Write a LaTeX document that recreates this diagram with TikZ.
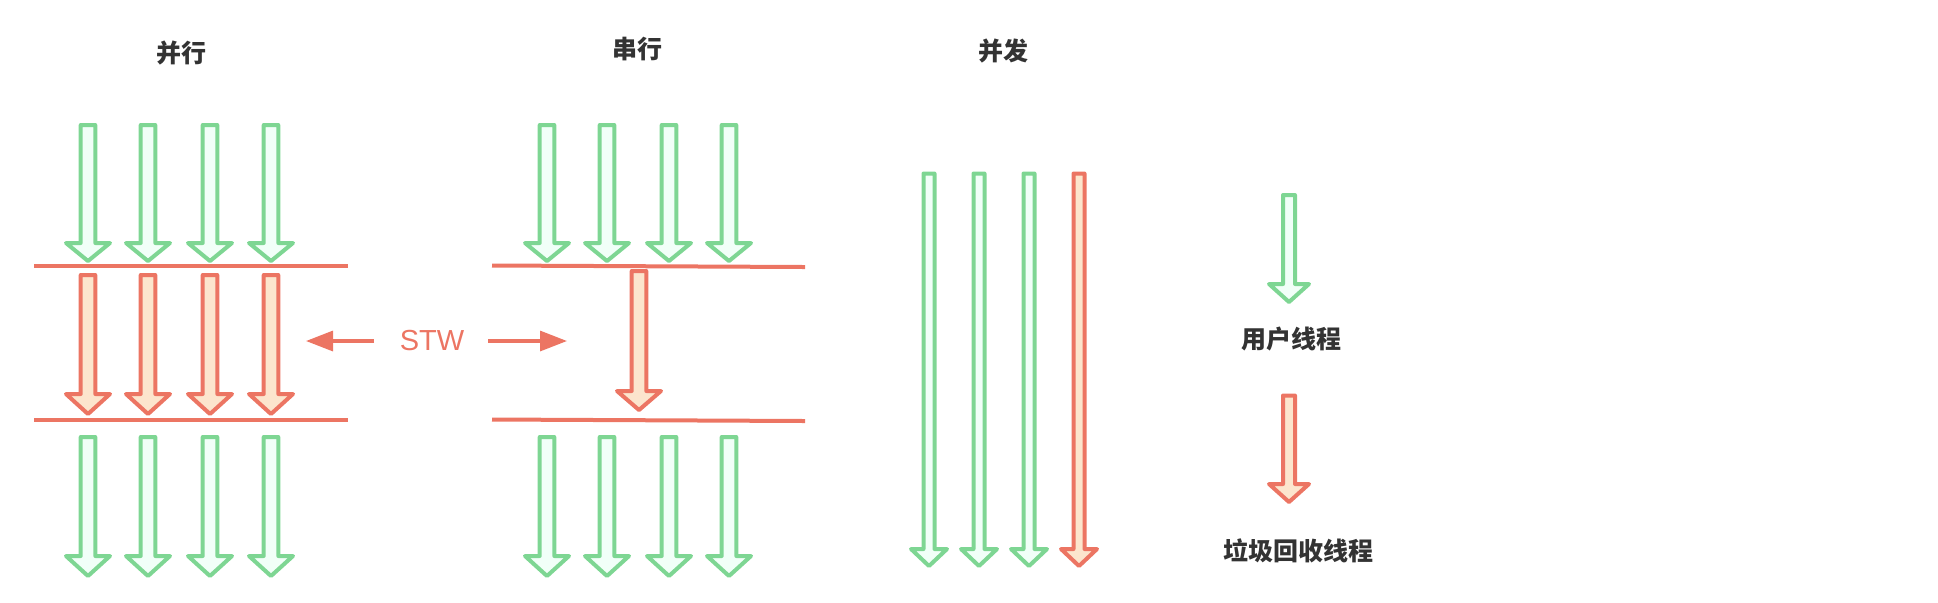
\documentclass[tikz,border=0pt]{standalone}
\usepackage{fontspec}
\setmainfont{Liberation Sans}
\newfontfamily\cjk{Noto Sans CJK SC}
\usetikzlibrary{arrows.meta}
\definecolor{usergreen}{HTML}{7ED693}
\definecolor{userfill}{HTML}{F1FFF8}
\definecolor{gcred}{HTML}{EC7563}
\definecolor{gcfill}{HTML}{FCE5CD}
\definecolor{labelgray}{HTML}{333333}
% style, x, top, head base, tip, half shaft, half head
\newcommand\thread[7]{%
  \draw[#1] (#2-#6,#3) -- (#2+#6,#3) -- (#2+#6,#4) -- (#2+#7,#4) -- (#2,#5)
    -- (#2-#7,#4) -- (#2-#6,#4) -- cycle;}
\begin{document}
\begin{tikzpicture}[x=0.5pt,y=-0.5pt,
  user/.style={draw=usergreen,fill=userfill,line width=2pt,line join=round},
  gc/.style={draw=gcred,fill=gcfill,line width=2pt,line join=round},
  stwline/.style={draw=gcred,line width=2pt},
  stwarrow/.style={draw=gcred,line width=1.6pt,-{Triangle[length=13.5pt,width=10pt]}},
  title/.style={font=\cjk\bfseries\fontsize{12.5pt}{15pt}\selectfont,text=labelgray}]
	\useasboundingbox (0,0) rectangle (1938,602);
	% parallel
	\node[title] (par) at (181,53) {并行};
	\coordinate (parT1) at (34,265.5); \coordinate (parT2) at (348,265.5);
	\coordinate (parB1) at (34,419.6); \coordinate (parB2) at (348,419.6);
	\draw[stwline] (parT1)--(parT2) (parB1)--(parB2);
	\foreach \x in {88,148,210,271} {
		\thread{user}{\x}{125}{243}{261}{7.3}{22}
		\thread{gc}{\x}{275}{394}{414}{7.3}{22}
		\thread{user}{\x}{437}{556}{576}{7.3}{22}
	}
	% stop the world
	\node[text=gcred,font=\fontsize{14.5pt}{17pt}\selectfont] (stw) at (432,341) {STW};
	\coordinate (stwL0) at (374,341); \coordinate (stwL1) at (306,341);
	\coordinate (stwR0) at (488,341); \coordinate (stwR1) at (567,341);
	\draw[stwarrow] (stwL0)--(stwL1);
	\draw[stwarrow] (stwR0)--(stwR1);
	% serial
	\node[title] (ser) at (637,49) {串行};
	\coordinate (serT1) at (492,265.5); \coordinate (serT2) at (805,267);
	\coordinate (serB1) at (492,419.5); \coordinate (serB2) at (805,421);
	\draw[stwline] (serT1)--(serT2) (serB1)--(serB2);
	\foreach \x in {547,607,669,729} {
		\thread{user}{\x}{125}{243}{261}{7.3}{22}
		\thread{user}{\x}{437}{556}{576}{7.3}{22}
	}
	\thread{gc}{639}{271}{391}{410}{7.3}{22}
	% concurrent
	\node[title] (con) at (1003,51) {并发};
	\foreach \x in {929,979,1029} {
		\thread{user}{\x}{173.5}{549}{566}{5.5}{18}
	}
	\thread{gc}{1079}{173.5}{549}{566}{5.5}{18}
	% legend
	\thread{user}{1289}{195}{284}{302}{6}{20}
	\node[title] (userlbl) at (1291,339) {用户线程};
	\thread{gc}{1289}{395.5}{484}{502}{6}{20}
	\node[title] (gclbl) at (1298,551) {垃圾回收线程};
\end{tikzpicture}
\end{document}
